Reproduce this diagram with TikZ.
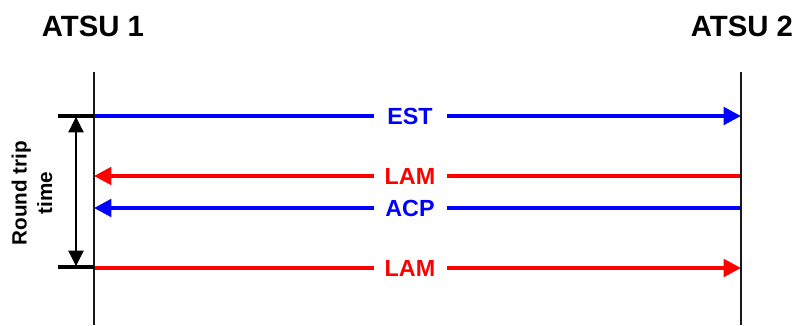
\documentclass[tikz,border=0pt]{standalone}
\usepackage{fontspec}
\setmainfont{Liberation Sans}
\usetikzlibrary{arrows.meta}
\definecolor{msgblue}{RGB}{0,0,255}
\definecolor{msgred}{RGB}{255,0,0}
\begin{document}
\begin{tikzpicture}[x=0.75pt,y=-0.75pt,
  head/.style={font=\bfseries\fontsize{22}{26}\selectfont, inner sep=0pt},
  life/.style={line width=1.8pt, draw=black!90},
  msg/.style={line width=3pt, -{Triangle[length=13pt,width=13pt]}},
  lbl/.style={fill=white, inner sep=0pt, minimum width=73*0.75pt, minimum height=14pt, font=\bfseries\fontsize{17.5}{20}\selectfont},
  tick/.style={line width=2.8pt, draw=black},
  rtt/.style={line width=0.9pt, {Triangle[length=11.5pt,width=11.5pt]}-{Triangle[length=11.5pt,width=11.5pt]}}]
\useasboundingbox (0,0) rectangle (800,325);
% headers
\node[head] (h1) at (93,26) {ATSU 1};
\node[head] (h2) at (742,26) {ATSU 2};
% lifelines
\coordinate (l1top) at (94,72);
\coordinate (l1bot) at (94,325);
\coordinate (l2top) at (741,72);
\coordinate (l2bot) at (741,325);
% points on lifelines
\coordinate (a1) at (94,116);
\coordinate (b1) at (741,116);
\coordinate (a2) at (94,176);
\coordinate (b2) at (741,176);
\coordinate (a3) at (94,208);
\coordinate (b3) at (741,208);
\coordinate (a4) at (94,268);
\coordinate (b4) at (741,268);
% messages
\draw[msg, draw=msgblue, fill=msgblue] (a1) -- (b1);
\draw[msg, draw=msgred, fill=msgred] (b2) -- (a2);
\draw[msg, draw=msgblue, fill=msgblue] (b3) -- (a3);
\draw[msg, draw=msgred, fill=msgred] (a4) -- (b4);
\node[lbl, text=msgblue] (m1) at (410,116) {EST};
\node[lbl, text=msgred] (m2) at (410,176) {LAM};
\node[lbl, text=msgblue] (m3) at (410,208) {ACP};
\node[lbl, text=msgred] (m4) at (410,268) {LAM};
% lifelines on top
\draw[life] (l1top) -- (l1bot);
\draw[life] (l2top) -- (l2bot);
% round trip bracket
\coordinate (t1) at (58,116);
\coordinate (t2) at (58,267);
\coordinate (t2e) at (94,267);
\draw[tick] (t1) -- (a1);
\draw[tick] (t2) -- (t2e);
\coordinate (r1) at (76,117);
\coordinate (r2) at (76,266);
\draw[rtt, fill=black] (r1) -- (r2);
\node[rotate=90, align=center, font=\bfseries\fontsize{15.5}{19}\selectfont, inner sep=0pt] (rt) at (32,193) {Round trip\\time};
\end{tikzpicture}
\end{document}
